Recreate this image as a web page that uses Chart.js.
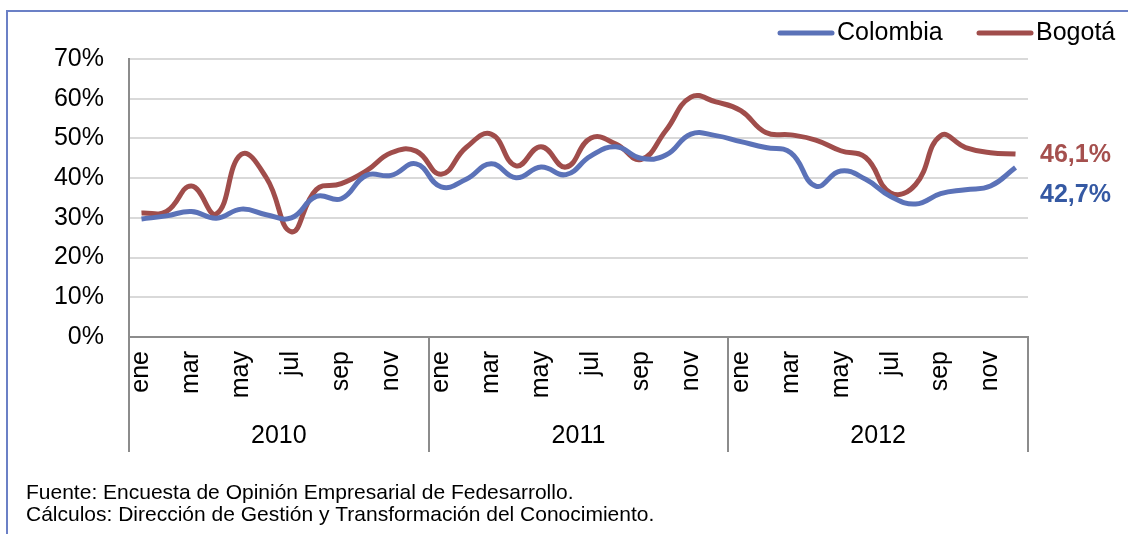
<!DOCTYPE html>
<html>
<head>
<meta charset="utf-8">
<script src="https://cdn.jsdelivr.net/npm/chart.js@4.4.1/dist/chart.umd.min.js"></script>
<style>
  html, body { margin: 0; padding: 0; background: #fff; }
  #wrap { width: 1128px; height: 534px; position: relative; }
</style>
</head>
<body>
<div id="wrap"><canvas id="c" width="1128" height="534"></canvas></div>
<script>
const months = ['ene','feb','mar','abr','may','jun','jul','ago','sep','oct','nov','dic'];
const years = ['2010','2011','2012'];
const categories = [];
years.forEach(y => months.forEach(m => categories.push(m + ' ' + y)));

const colombia = [
  29.7, 30.5, 31.6, 29.9, 32.2, 30.8, 30.0, 35.4, 34.8, 40.7, 40.7, 43.6,
  37.8, 39.7, 43.6, 40.1, 42.8, 40.9, 45.6, 47.9, 45.0, 45.8, 51.1, 50.7,
  49.2, 47.7, 46.4, 38.0, 41.8, 39.7, 35.4, 33.5, 36.1, 37.1, 38.0, 42.7
];
const bogota = [
  31.2, 31.6, 38.0, 31.0, 46.0, 40.1, 26.5, 37.1, 38.6, 41.8, 46.4, 46.8,
  41.0, 47.7, 51.1, 43.1, 47.9, 42.8, 50.1, 48.6, 44.7, 52.0, 60.4, 59.2,
  57.0, 51.5, 50.9, 49.6, 46.9, 45.2, 36.3, 38.4, 50.7, 47.7, 46.4, 46.1
];
const yTicks = [0, 10, 20, 30, 40, 50, 60, 70];
const seriesNames = ['Colombia', 'Bogotá'];
const footnotes = [
  'Fuente: Encuesta de Opinión Empresarial de Fedesarrollo.',
  'Cálculos: Dirección de Gestión y Transformación del Conocimiento.'
];

const BLUE = '#5b72b8';
const RED = '#a04d4b';
const BLUE_LABEL = '#3559a3';
const RED_LABEL = '#a5504e';
const FONT = "'Liberation Sans', Arial, sans-serif";

const extras = {
  id: 'extras',
  beforeDraw(chart) {
    const ctx = chart.ctx;
    ctx.save();
    ctx.fillStyle = '#fff';
    ctx.fillRect(0, 0, chart.width, chart.height);
    // frame
    ctx.strokeStyle = '#6b80c6';
    ctx.lineWidth = 2;
    ctx.beginPath();
    ctx.moveTo(7, 534);
    ctx.lineTo(7, 11);
    ctx.lineTo(1128, 11);
    ctx.stroke();
    ctx.restore();
  },
  afterDraw(chart) {
    const ctx = chart.ctx;
    const xs = chart.scales.x;
    const ys = chart.scales.y;
    const area = chart.chartArea;
    ctx.save();
    // year separators and labels
    ctx.strokeStyle = '#8c8c8c';
    ctx.lineWidth = 2;
    const n = months.length;
    const step = (area.right - area.left) / categories.length;
    for (let k = 0; k <= years.length; k++) {
      const x = k === years.length ? area.right : xs.getPixelForValue(k * n) - step / 2;
      ctx.beginPath();
      ctx.moveTo(Math.round(x), area.bottom);
      ctx.lineTo(Math.round(x), area.bottom + 115);
      ctx.stroke();
    }
    ctx.fillStyle = '#000';
    ctx.font = '25px ' + FONT;
    ctx.textAlign = 'center';
    ctx.textBaseline = 'middle';
    years.forEach((y, k) => {
      const x0 = xs.getPixelForValue(k * n) - step / 2;
      const x1 = xs.getPixelForValue(k * n + n - 1) + step / 2;
      ctx.fillText(y, (x0 + x1) / 2, area.bottom + 99);
    });
    // end labels
    ctx.font = 'bold 25px ' + FONT;
    ctx.textAlign = 'left';
    const last = categories.length - 1;
    const fmt = v => v.toFixed(1).replace('.', ',') + '%';
    ctx.fillStyle = RED_LABEL;
    ctx.fillText(fmt(bogota[last]), area.right + 12, ys.getPixelForValue(bogota[last]) + 1);
    ctx.fillStyle = BLUE_LABEL;
    ctx.fillText(fmt(colombia[last]), area.right + 12, ys.getPixelForValue(colombia[last]) + 28);
    // legend
    ctx.font = '25px ' + FONT;
    ctx.lineCap = 'round';
    ctx.lineWidth = 5;
    const legendItems = [
      { name: seriesNames[0], color: BLUE, x: 780 },
      { name: seriesNames[1], color: RED, x: 979 }
    ];
    legendItems.forEach(it => {
      ctx.strokeStyle = it.color;
      ctx.beginPath();
      ctx.moveTo(it.x, 33);
      ctx.lineTo(it.x + 52, 33);
      ctx.stroke();
      ctx.fillStyle = '#000';
      ctx.fillText(it.name, it.x + 57, 33);
    });
    // footnotes
    ctx.font = '21px ' + FONT;
    ctx.textBaseline = 'alphabetic';
    ctx.fillStyle = '#000';
    ctx.fillText(footnotes[0], 26, 499);
    ctx.fillText(footnotes[1], 26, 521);
    ctx.restore();
  }
};

new Chart(document.getElementById('c'), {
  type: 'line',
  data: {
    labels: categories,
    datasets: [
      { label: seriesNames[0], data: colombia, borderColor: BLUE, borderWidth: 5, tension: 0.45, pointRadius: 0, fill: false },
      { label: seriesNames[1], data: bogota, borderColor: RED, borderWidth: 5, tension: 0.45, pointRadius: 0, fill: false }
    ]
  },
  options: {
    responsive: false,
    animation: false,
    events: [],
    layout: { padding: { left: 0, right: 100, top: 59, bottom: 77 } },
    plugins: { legend: { display: false }, tooltip: { enabled: false } },
    scales: {
      x: {
        type: 'category',
        offset: true,
        grid: { display: false, drawTicks: false },
        border: { display: true, color: '#8c8c8c', width: 2 },
        ticks: {
          autoSkip: false,
          maxRotation: 90,
          minRotation: 90,
          padding: 14,
          color: '#000',
          font: { family: FONT, size: 25 },
          callback: function(value, index) {
            return index % 2 === 0 ? months[index % 12] : '';
          }
        },
        afterFit(scale) { scale.height = 120; }
      },
      y: {
        min: 0,
        max: 70,
        afterBuildTicks(scale) { scale.ticks = yTicks.map(v => ({ value: v })); },
        grid: { color: '#d9d9d9', lineWidth: 2, drawTicks: false },
        border: { display: true, color: '#8c8c8c', width: 2 },
        ticks: {
          padding: 25,
          color: '#000',
          font: { family: FONT, size: 25 },
          callback: v => v + '%'
        },
        afterFit(scale) { scale.width = 129; }
      }
    }
  },
  plugins: [extras]
});
</script>
</body>
</html>
